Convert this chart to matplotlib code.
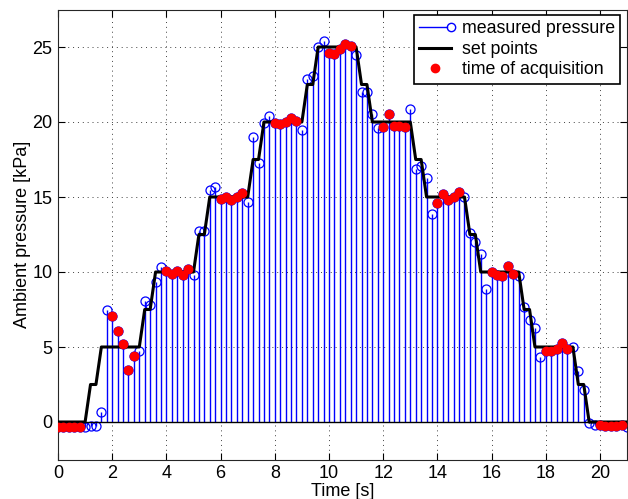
import matplotlib
matplotlib.use('Agg')
import matplotlib.pyplot as plt
from matplotlib.lines import Line2D
from matplotlib.legend_handler import HandlerBase
import numpy as np

plt.rcParams['font.family'] = ['Liberation Sans', 'DejaVu Sans']
plt.rcParams['font.size'] = 13

# measured pressure, one sample every 0.2 s from 0 to 21 s
time_s = [0.0, 0.2, 0.4, 0.6, 0.8, 1.0, 1.2, 1.4, 1.6, 1.8,
          2.0, 2.2, 2.4, 2.6, 2.8, 3.0, 3.2, 3.4, 3.6, 3.8,
          4.0, 4.2, 4.4, 4.6, 4.8, 5.0, 5.2, 5.4, 5.6, 5.8,
          6.0, 6.2, 6.4, 6.6, 6.8, 7.0, 7.2, 7.4, 7.6, 7.8,
          8.0, 8.2, 8.4, 8.6, 8.8, 9.0, 9.2, 9.4, 9.6, 9.8,
          10.0, 10.2, 10.4, 10.6, 10.8, 11.0, 11.2, 11.4, 11.6, 11.8,
          12.0, 12.2, 12.4, 12.6, 12.8, 13.0, 13.2, 13.4, 13.6, 13.8,
          14.0, 14.2, 14.4, 14.6, 14.8, 15.0, 15.2, 15.4, 15.6, 15.8,
          16.0, 16.2, 16.4, 16.6, 16.8, 17.0, 17.2, 17.4, 17.6, 17.8,
          18.0, 18.2, 18.4, 18.6, 18.8, 19.0, 19.2, 19.4, 19.6, 19.8,
          20.0, 20.2, 20.4, 20.6, 20.8, 21.0]
pressure = [-0.35, -0.35, -0.35, -0.35, -0.35, -0.3, -0.25, -0.25, 0.69, 7.5,
            7.1, 6.05, 5.2, 3.45, 4.4, 4.75, 8.1, 7.8, 9.35, 10.35,
            10.05, 9.9, 10.1, 9.8, 10.2, 9.8, 12.75, 12.75, 15.5, 15.7,
            14.85, 15.0, 14.8, 15.0, 15.25, 14.7, 19.0, 17.25, 19.95, 20.4,
            19.95, 19.85, 20.0, 20.25, 20.1, 19.5, 22.85, 23.1, 25.0, 25.4,
            24.6, 24.55, 24.9, 25.2, 25.1, 24.5, 22.0, 22.0, 20.55, 19.6,
            19.7, 20.55, 19.75, 19.75, 19.7, 20.9, 16.9, 17.05, 16.3, 13.9,
            14.6, 15.2, 14.8, 15.0, 15.35, 15.0, 12.6, 12.0, 11.2, 8.85,
            10.0, 9.8, 9.75, 10.4, 9.85, 9.75, 7.65, 6.8, 6.3, 4.35,
            4.75, 4.75, 4.9, 5.25, 4.9, 5.0, 3.4, 2.15, -0.05, -0.2,
            -0.2, -0.25, -0.25, -0.25, -0.2, -0.3]

# set point corners
set_t = [0, 1.0, 1.2, 1.4, 1.6, 3.0, 3.2, 3.4, 3.6, 5.0, 5.2, 5.4, 5.6, 7.0,
         7.2, 7.4, 7.6, 9.0, 9.2, 9.4, 9.6, 11.0, 11.2, 11.4, 11.6, 13.0,
         13.2, 13.4, 13.6, 15.0, 15.2, 15.4, 15.6, 17.0, 17.2, 17.4, 17.6,
         19.0, 19.2, 19.4, 19.6, 21.0]
set_v = [0, 0, 2.5, 2.5, 5, 5, 7.5, 7.5, 10, 10, 12.5, 12.5, 15, 15,
         17.5, 17.5, 20, 20, 22.5, 22.5, 25, 25, 22.5, 22.5, 20, 20,
         17.5, 17.5, 15, 15, 12.5, 12.5, 10, 10, 7.5, 7.5, 5,
         5, 2.5, 2.5, 0, 0]

# acquisition times (red dots)
acq_t = [0.0, 0.2, 0.4, 0.6, 0.8, 2.0, 2.2, 2.4, 2.6, 2.8,
         4.0, 4.2, 4.4, 4.6, 4.8, 6.0, 6.2, 6.4, 6.6, 6.8,
         8.0, 8.2, 8.4, 8.6, 8.8, 10.0, 10.2, 10.4, 10.6, 10.8,
         12.0, 12.2, 12.4, 12.6, 12.8, 14.0, 14.2, 14.4, 14.6, 14.8,
         16.0, 16.2, 16.4, 16.6, 16.8, 18.0, 18.2, 18.4, 18.6, 18.8,
         20.0, 20.2, 20.4, 20.6, 20.8]
acq_v = [pressure[time_s.index(a)] for a in acq_t]


class StemHandler(HandlerBase):
    def create_artists(self, legend, orig_handle, xdescent, ydescent,
                       width, height, fontsize, trans):
        y = height / 2 - ydescent
        ln = Line2D([-xdescent, width - xdescent - 3], [y, y], color='b', lw=1)
        mk = Line2D([width - xdescent], [y], marker='o', mfc='none', mec='b',
                    ms=6, ls='none')
        ln.set_transform(trans)
        mk.set_transform(trans)
        return [ln, mk]


fig = plt.figure(figsize=(6.28, 4.99), dpi=100)
ax = fig.add_axes([58 / 628, 39.5 / 499, 569.1 / 628, 450 / 499])

markerline, stemlines, baseline = ax.stem(time_s, pressure, linefmt='b-',
                                          markerfmt='bo', basefmt='k-')
stemlines.set_linewidth(1.0)
markerline.set_markerfacecolor('none')
markerline.set_markeredgecolor('b')
markerline.set_markersize(6.5)
markerline.set_markeredgewidth(0.9)
baseline.set_linewidth(1.0)

ax.plot(set_t, set_v, 'k-', lw=2.2, zorder=4)
ax.plot(acq_t, acq_v, 'o', color='r', mec='r', ms=6, ls='none', zorder=5)

ax.set_xlim(0, 21)
ax.set_ylim(-2.5, 27.5)
ax.set_xticks(np.arange(0, 21, 2))
ax.set_yticks(np.arange(0, 26, 5))
ax.tick_params(direction='in', length=5, top=True, right=True, pad=4,
               labelsize=13)
ax.grid(True, color='0.25', linestyle=(0, (1, 4)), lw=0.7)
ax.set_axisbelow(True)
for s in ax.spines.values():
    s.set_color('0.15')
    s.set_linewidth(0.8)

ax.set_xlabel('Time [s]', labelpad=1)
ax.set_ylabel('Ambient pressure [kPa]', labelpad=1)

h_meas = Line2D([], [], color='b')
h_set = Line2D([], [], color='k', lw=2.2)
h_acq = Line2D([], [], marker='o', color='r', ms=6, ls='none')
leg = ax.legend([h_meas, h_set, h_acq],
                ['measured pressure', 'set points', 'time of acquisition'],
                handler_map={h_meas: StemHandler()},
                loc='upper right', bbox_to_anchor=(0.9875, 0.988),
                borderaxespad=0, fancybox=False, framealpha=1,
                handlelength=1.8, handletextpad=0.6, labelspacing=0.2,
                borderpad=0.3, fontsize=12.8)
leg.get_frame().set_edgecolor('k')
leg.get_frame().set_linewidth(1.2)

fig.savefig('out.png', dpi=100)
